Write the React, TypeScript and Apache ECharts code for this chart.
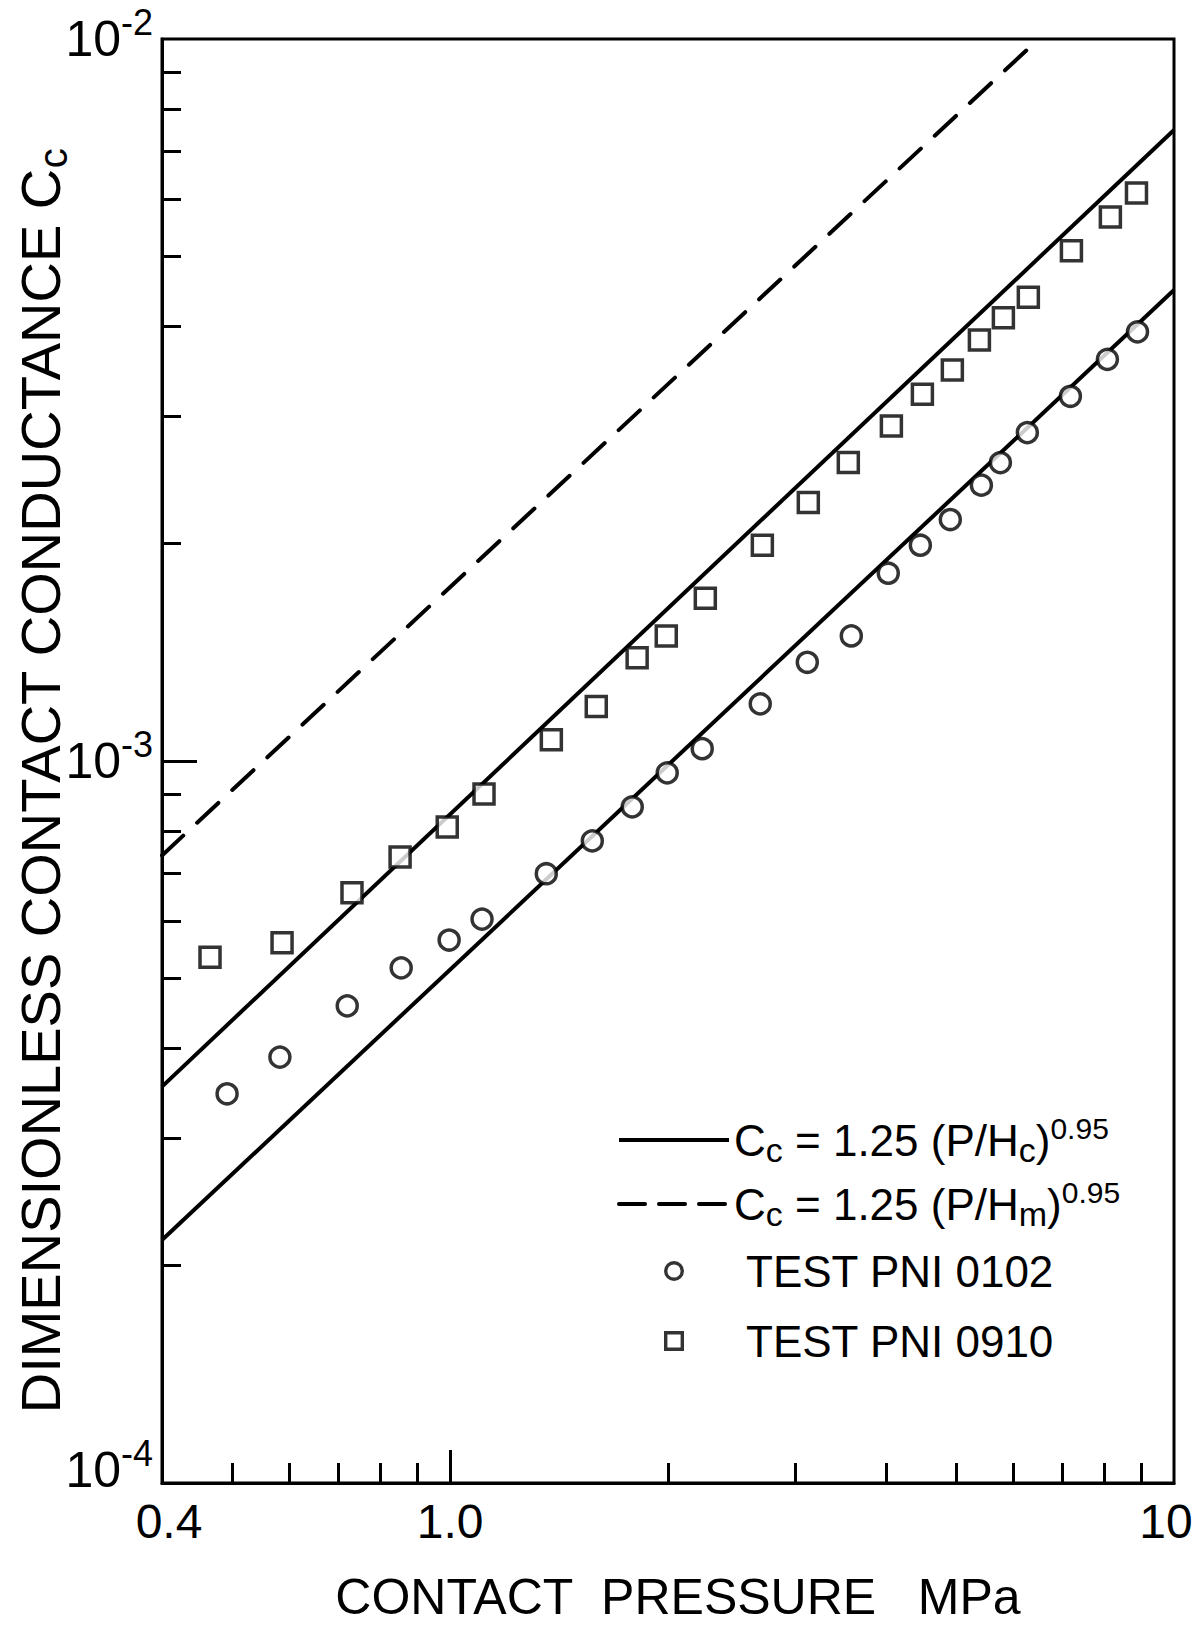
import React, { useEffect, useRef } from 'react';
import * as echarts from 'echarts';

const FONT = '"Liberation Sans", Arial, sans-serif';

// Axis ticks / labels (values on log axes)
const xLabelValues = [0.4, 1, 10];
const xMajorTicks = [1];
const xMinorTicks = [0.5, 0.6, 0.7, 0.8, 0.9, 2, 3, 4, 5, 6, 7, 8, 9];
const yLabelValues = [1e-4, 1e-3, 1e-2];
const yMajorTicks = [1e-3];
const yMinorTicks = [2e-4, 3e-4, 4e-4, 5e-4, 6e-4, 7e-4, 8e-4, 9e-4, 2e-3, 3e-3, 4e-3, 5e-3, 6e-3, 7e-3, 8e-3, 9e-3];

// Series names
const NAME_HC = 'Cc = 1.25 (P/Hc)^0.95';
const NAME_HM = 'Cc = 1.25 (P/Hm)^0.95';
const NAME_0102 = 'TEST PNI 0102';
const NAME_0910 = 'TEST PNI 0910';

// Data: [contact pressure MPa, Cc]
const test0102: [number, number][] = [
  [0.492, 3.46e-4], [0.582, 3.89e-4], [0.721, 4.58e-4], [0.856, 5.17e-4], [0.997, 5.65e-4],
  [1.107, 6.04e-4], [1.358, 6.98e-4], [1.572, 7.75e-4], [1.785, 8.64e-4], [1.995, 9.63e-4],
  [2.23, 1.04e-3], [2.682, 1.2e-3], [3.115, 1.37e-3], [3.583, 1.49e-3], [4.03, 1.82e-3],
  [4.463, 1.99e-3], [4.909, 2.16e-3], [5.419, 2.41e-3], [5.757, 2.59e-3], [6.272, 2.85e-3],
  [7.193, 3.2e-3], [8.091, 3.6e-3], [8.904, 3.93e-3],
];
const test0910: [number, number][] = [
  [0.466, 5.35e-4], [0.586, 5.6e-4], [0.732, 6.57e-4], [0.853, 7.36e-4], [0.991, 8.1e-4],
  [1.114, 9.0e-4], [1.38, 1.07e-3], [1.592, 1.19e-3], [1.813, 1.39e-3], [1.989, 1.49e-3],
  [2.252, 1.68e-3], [2.7, 1.99e-3], [3.125, 2.28e-3], [3.549, 2.59e-3], [4.07, 2.91e-3],
  [4.492, 3.22e-3], [4.941, 3.48e-3], [5.385, 3.83e-3], [5.812, 4.11e-3], [6.292, 4.39e-3],
  [7.216, 5.09e-3], [8.168, 5.67e-3], [8.875, 6.12e-3],
];
const solidUpper: [number, number][] = [[0.4, 3.54e-4], [10, 7.48e-3]];
const solidLower: [number, number][] = [[0.4, 2.17e-4], [10, 4.49e-3]];
const dashedHm: [number, number][] = [[0.4, 7.4e-4], [6.5, 1.0e-2]];

// Legend icons drawn as filled outlines (ring / square frame) so they look bold
const RING_ICON = 'path://M10,0A10,10,0,1,1,10,20A10,10,0,1,1,10,0ZM10,3.4A6.6,6.6,0,1,0,10,16.6A6.6,6.6,0,1,0,10,3.4Z';
const FRAME_ICON = 'path://M0,0L20,0L20,20L0,20ZM3.4,3.4L3.4,16.6L16.6,16.6L16.6,3.4Z';

export default function App() {
  const ref = useRef<HTMLDivElement>(null);
  useEffect(() => {
    if (!ref.current) return;
    const chart = echarts.init(ref.current, null, { renderer: 'svg' });
    const black = '#000';
    const clear = 'rgba(0,0,0,0)';
    const baseX = {
      type: 'log',
      logBase: 10,
      min: 0.4,
      max: 10,
      position: 'bottom',
      gridIndex: 0,
      splitLine: { show: false },
    };
    const baseY = {
      type: 'log',
      logBase: 10,
      min: 1e-4,
      max: 1e-2,
      position: 'left',
      gridIndex: 0,
      splitLine: { show: false },
    };
    const markerStyle = { color: '#fff', borderColor: black, borderWidth: 3.5 };
    chart.setOption({
      animation: false,
      backgroundColor: '#fff',
      textStyle: { fontFamily: FONT, color: black },
      grid: {
        left: 162, right: 23, top: 39, bottom: 146,
        show: true, borderColor: black, borderWidth: 3,
        containLabel: false, outerBoundsMode: 'none',
      },
      legend: {
        orient: 'vertical',
        left: 617,
        top: 1113,
        padding: 0,
        itemWidth: 110,
        itemHeight: 20,
        itemGap: 10,
        selectedMode: false,
        symbolKeepAspect: true,
        data: [
          { name: NAME_HC, itemStyle: { color: clear, borderColor: clear, borderWidth: 0 }, lineStyle: { color: black, width: 4 } },
          {
            name: NAME_HM,
            itemStyle: { color: clear, borderColor: clear, borderWidth: 0 },
            lineStyle: { color: black, type: [26, 14], width: 4, cap: 'round' },
          },
          { name: NAME_0102, icon: RING_ICON, itemStyle: { color: black, borderColor: clear, borderWidth: 0 } },
          { name: NAME_0910, icon: FRAME_ICON, itemStyle: { color: black, borderColor: clear, borderWidth: 0 } },
        ],
        formatter: (name: string) => {
          if (name === NAME_HC) return '{m|C}{sb|c}{m| = 1.25 (P/H}{sb|c}{m|)}{sp|0.95}';
          if (name === NAME_HM) return '{m|C}{sb|c}{m| = 1.25 (P/H}{sb|m}{m|)}{sp|0.95}';
          return '{t|' + name + '}';
        },
        textStyle: {
          color: black,
          fontFamily: FONT,
          fontSize: 44,
          rich: {
            m: { fontSize: 44, lineHeight: 54, fontFamily: FONT, color: black },
            sb: { fontSize: 34, lineHeight: 32, verticalAlign: 'bottom', fontFamily: FONT, color: black },
            sp: { fontSize: 30, lineHeight: 28, verticalAlign: 'top', fontFamily: FONT, color: black },
            t: { fontSize: 44, lineHeight: 60, height: 60, padding: [0, 0, 0, 12], fontFamily: FONT, color: black },
          },
        },
      },
      xAxis: [
        {
          ...baseX,
          name: 'CONTACT\u00A0 PRESSURE\u00A0\u00A0 MPa',
          nameLocation: 'middle',
          nameGap: 88,
          nameMoveOverlap: false,
          nameTextStyle: { fontSize: 50, lineHeight: 52, fontFamily: FONT, color: black, padding: [0, 0, 0, 20] },
          axisLine: { show: true, lineStyle: { color: black, width: 3 } },
          axisTick: { show: true, inside: true, length: 33, customValues: xMajorTicks, lineStyle: { color: black, width: 3 } },
          axisLabel: {
            show: true,
            customValues: xLabelValues,
            margin: 13,
            fontSize: 48,
            lineHeight: 50,
            fontFamily: FONT,
            color: black,
            formatter: (v: number) => {
              if (v < 0.5) return '{l|0.4}';
              if (Math.abs(v - 1) < 1e-6) return '{n|1.0}';
              return '{r|10}';
            },
            rich: {
              l: { fontSize: 48, lineHeight: 50, padding: [0, 0, 0, 14], fontFamily: FONT, color: black },
              n: { fontSize: 48, lineHeight: 50, fontFamily: FONT, color: black },
              r: { fontSize: 48, lineHeight: 50, padding: [0, 16, 0, 0], fontFamily: FONT, color: black },
            },
          },
        },
        {
          ...baseX,
          axisLine: { show: false },
          axisLabel: { show: false },
          axisTick: { show: true, inside: true, length: 20, customValues: xMinorTicks, lineStyle: { color: black, width: 3 } },
        },
      ],
      yAxis: [
        {
          ...baseY,
          name: '{t|DIMENSIONLESS CONTACT CONDUCTANCE C}{sb|c}',
          nameLocation: 'middle',
          nameRotate: 90,
          nameGap: 89,
          nameMoveOverlap: false,
          nameTextStyle: {
            fontFamily: FONT,
            color: black,
            padding: [0, 40, 0, 0],
            rich: {
              t: { fontSize: 56, lineHeight: 66, fontFamily: FONT, color: black },
              sb: { fontSize: 40, lineHeight: 40, verticalAlign: 'bottom', fontFamily: FONT, color: black },
            },
          },
          axisLine: { show: true, lineStyle: { color: black, width: 3 } },
          axisTick: { show: true, inside: true, length: 35, customValues: yMajorTicks, lineStyle: { color: black, width: 3 } },
          axisLabel: {
            show: true,
            customValues: yLabelValues,
            margin: 9,
            fontFamily: FONT,
            color: black,
            formatter: (v: number) => {
              const e = Math.round(Math.log10(v));
              if (e === -4) return '{b|10}{s|' + e + '}\n{g| }';
              return '{b|10}{s|' + e + '}';
            },
            rich: {
              b: { fontSize: 50, lineHeight: 70, fontFamily: FONT, color: black },
              s: { fontSize: 36, lineHeight: 30, verticalAlign: 'top', fontFamily: FONT, color: black },
              g: { fontSize: 10, lineHeight: 26, fontFamily: FONT, color: black },
            },
          },
        },
        {
          ...baseY,
          axisLine: { show: false },
          axisLabel: { show: false },
          axisTick: { show: true, inside: true, length: 19, customValues: yMinorTicks, lineStyle: { color: black, width: 3 } },
        },
      ],
      series: [
        {
          name: NAME_HC,
          type: 'line',
          data: solidUpper,
          symbol: 'none',
          lineStyle: { color: black, width: 4, type: 'solid' },
          itemStyle: { color: black },
          z: 2,
        },
        {
          name: NAME_HC,
          type: 'line',
          data: solidLower,
          symbol: 'none',
          lineStyle: { color: black, width: 4, type: 'solid' },
          itemStyle: { color: black },
          z: 2,
        },
        {
          name: NAME_HM,
          type: 'line',
          data: dashedHm,
          symbol: 'none',
          lineStyle: { color: black, width: 4, type: [29, 19], cap: 'round' },
          itemStyle: { color: black },
          z: 2,
        },
        {
          name: NAME_0102,
          type: 'scatter',
          data: test0102,
          symbol: 'circle',
          symbolSize: 20,
          itemStyle: markerStyle,
          z: 4,
        },
        {
          name: NAME_0910,
          type: 'scatter',
          data: test0910,
          symbol: 'rect',
          symbolSize: 20,
          itemStyle: markerStyle,
          z: 4,
        },
      ],
    });
    return () => chart.dispose();
  }, []);
  return (
    <div
      ref={ref}
      style={{ position: 'absolute', left: 0, top: 0, width: 1197, height: 1629, background: '#fff' }}
    />
  );
}
